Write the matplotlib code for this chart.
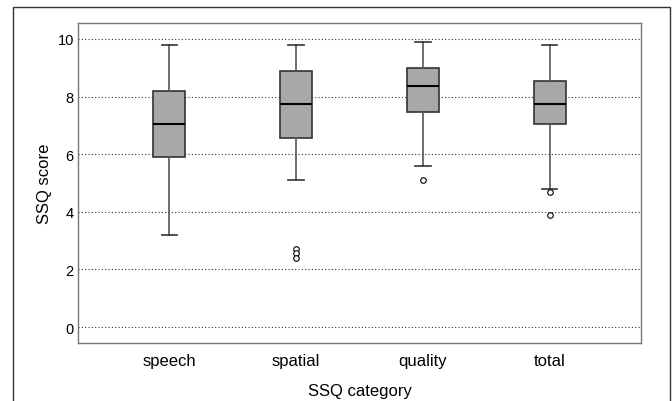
import numpy as np
import matplotlib
matplotlib.use("Agg")
from matplotlib import pyplot as plt
from matplotlib.patches import Rectangle

plt.rcParams['font.family'] = ['Liberation Sans', 'DejaVu Sans']

# box statistics
categories = ['speech', 'spatial', 'quality', 'total']
whislo = [3.2, 5.1, 5.6, 4.8]
q1 = [5.9, 6.55, 7.45, 7.03]
med = [7.04, 7.74, 8.38, 7.74]
q3 = [8.18, 8.88, 8.98, 8.53]
whishi = [9.8, 9.8, 9.9, 9.8]
fliers = [[], [2.72, 2.57, 2.4], [5.1], [4.7, 3.9]]

stats = []
for i in range(len(categories)):
    stats.append({'label': categories[i], 'whislo': whislo[i], 'q1': q1[i],
                  'med': med[i], 'q3': q3[i], 'whishi': whishi[i],
                  'fliers': fliers[i]})

fig = plt.figure(figsize=(6.72, 4.02), dpi=100)
ax = fig.add_axes([78/672, 1 - 344/402, 563/672, 320/402])

ax.bxp(stats, positions=np.arange(1, 5), widths=0.25, patch_artist=True,
       boxprops=dict(facecolor='#a8a8a8', edgecolor='#333333', linewidth=1.2),
       medianprops=dict(color='black', linewidth=1.5),
       whiskerprops=dict(color='#555555', linewidth=1.2),
       capprops=dict(color='#333333', linewidth=1.2),
       capwidths=0.12,
       flierprops=dict(marker='o', markersize=4, markerfacecolor='white',
                       markeredgecolor='black', markeredgewidth=0.8))

ax.set_xlim(0.28, 4.72)
ax.set_ylim(-0.55, 10.55)
ax.set_yticks([0, 2, 4, 6, 8, 10])
ax.yaxis.grid(True, linestyle=(0, (1, 2)), color='#333333', linewidth=0.8)
ax.set_axisbelow(True)
ax.tick_params(axis='both', length=0)
ax.tick_params(axis='y', labelsize=10.5, pad=3)
ax.tick_params(axis='x', labelsize=12, pad=7)
for s in ax.spines.values():
    s.set_color('#777777')
    s.set_linewidth(1.0)

ax.set_ylabel('SSQ score', fontsize=12, labelpad=4)
ax.set_xlabel('SSQ category', fontsize=12, labelpad=11)

# outer frame
fig.patches.append(Rectangle((13/672, -0.05), 657/672, 1 - 8/402 + 0.05,
                             transform=fig.transFigure, fill=False,
                             edgecolor='#333333', linewidth=1.0))

fig.savefig('out.png', dpi=100)
